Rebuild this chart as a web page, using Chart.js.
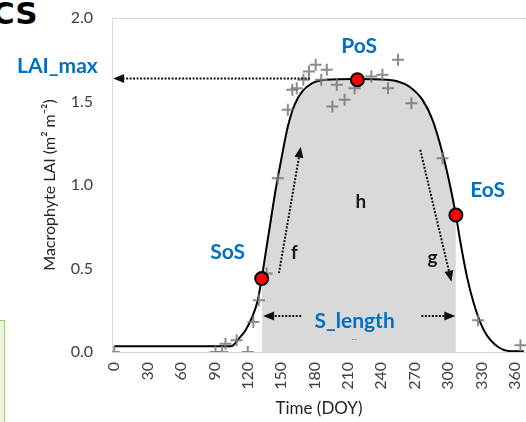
<!DOCTYPE html>
<html>
<head>
<meta charset="utf-8">
<script src="https://cdn.jsdelivr.net/npm/chart.js@4.4.1/dist/chart.umd.min.js"></script>
<style>
  html, body { margin: 0; padding: 0; background: #fff; overflow: hidden; }
  #wrap { position: relative; width: 526px; height: 422px; }
  #head { position: absolute; left: -8px; top: -5px; font: bold 31px 'DejaVu Sans'; color: #000; }
  #side { position: absolute; left: -10px; top: 320px; width: 13px; height: 110px; border: 1.5px solid #92D050; background: #EEF4E3; }
  canvas { position: absolute; left: 0; top: 0; }
</style>
</head>
<body>
<div id="wrap">
  <div id="head">CS</div>
  <div id="side"></div>
  <canvas id="chart" width="526" height="422"></canvas>
</div>
<script>
// fitted phenology curve (day of year, LAI)
const curveDays = [0, 105, 112, 118, 124, 129, 132.5, 136, 140, 145, 150, 156, 162, 169, 178, 190, 218, 245, 255, 265, 277, 286, 295, 302, 307, 311, 317, 325, 333, 345, 357, 368];
const curveLai = [0.035, 0.035, 0.08, 0.13, 0.21, 0.31, 0.44, 0.59, 0.76, 0.97, 1.15, 1.35, 1.48, 1.56, 1.61, 1.63, 1.635, 1.63, 1.62, 1.59, 1.51, 1.39, 1.19, 0.99, 0.82, 0.66, 0.45, 0.25, 0.12, 0.03, 0.005, 0.005];

// observed LAI
const obsDays = [0, 91, 97, 100, 110, 120, 125, 130, 137, 147, 156, 160, 164, 170, 175, 181, 186, 191, 196, 200, 207, 216, 231, 241, 246, 255, 267, 295, 327, 365];
const obsLai = [0.0, 0.0, 0.0, 0.05, 0.07, 0.0, 0.18, 0.31, 0.47, 1.04, 1.45, 1.57, 1.58, 1.63, 1.68, 1.72, 1.63, 1.69, 1.47, 1.60, 1.51, 1.58, 1.65, 1.66, 1.58, 1.75, 1.49, 1.16, 0.19, 0.04];

// start, peak and end of season
const phaseNames = ['SoS', 'PoS', 'EoS'];
const phaseDays = [132.5, 218.5, 307];
const phaseLai = [0.44, 1.63, 0.82];

const doyTicks = [0, 30, 60, 90, 120, 150, 180, 210, 240, 270, 300, 330, 360];
const laiTicks = [0, 0.5, 1.0, 1.5, 2.0];

// text notes placed in data units
const noteText = ['LAI_max', 'PoS', 'SoS', 'EoS', 'S_length', 'h', 'f', 'g', '--'];
const noteDay = [-51, 220, 102, 335.5, 216, 221.5, 162, 286, 216];
const noteLai = [1.71, 1.83, 0.60, 0.97, 0.186, 0.90, 0.594, 0.564, 0.078];
const noteKind = ['blue', 'blue', 'blue', 'blue', 'blue', 'dark', 'dark', 'dark', 'tiny'];

// dotted arrows (from -> tip)
const arrowFromDay = [176, 148, 275, 168, 276];
const arrowFromLai = [1.637, 0.472, 1.211, 0.216, 0.216];
const arrowToDay = [-1, 167.6, 303, 133.8, 306.5];
const arrowToLai = [1.637, 1.229, 0.421, 0.216, 0.216];

const sosDay = phaseDays[0];
const eosDay = phaseDays[2];
const fontFamily = 'Lato, "Open Sans", sans-serif';

function drawArrow(ctx, x0, y0, x1, y1) {
    const ang = Math.atan2(y1 - y0, x1 - x0);
    const head = 11, half = 4.5;
    const bx = x1 - head * Math.cos(ang);
    const by = y1 - head * Math.sin(ang);
    ctx.strokeStyle = '#111';
    ctx.lineWidth = 2;
    ctx.setLineDash([2, 1.5]);
    ctx.beginPath();
    ctx.moveTo(x0, y0);
    ctx.lineTo(bx, by);
    ctx.stroke();
    ctx.setLineDash([]);
    ctx.fillStyle = '#111';
    ctx.beginPath();
    ctx.moveTo(x1, y1);
    ctx.lineTo(bx + half * Math.sin(ang), by - half * Math.cos(ang));
    ctx.lineTo(bx - half * Math.sin(ang), by + half * Math.cos(ang));
    ctx.closePath();
    ctx.fill();
}

const notesPlugin = {
    id: 'notes',
    beforeDatasetsDraw(chart) {
        const {ctx, chartArea} = chart;
        // top edge of the plot frame
        ctx.save();
        ctx.strokeStyle = '#D9D9D9';
        ctx.lineWidth = 1;
        ctx.beginPath();
        ctx.moveTo(chartArea.left, chartArea.top + 0.5);
        ctx.lineTo(chartArea.right, chartArea.top + 0.5);
        ctx.stroke();
        ctx.restore();
    },
    afterDatasetsDraw(chart) {
        const {ctx, scales: {x, y}} = chart;
        ctx.save();
        for (let i = 0; i < arrowFromDay.length; i++) {
            drawArrow(ctx,
                x.getPixelForValue(arrowFromDay[i]), y.getPixelForValue(arrowFromLai[i]),
                x.getPixelForValue(arrowToDay[i]), y.getPixelForValue(arrowToLai[i]));
        }
        ctx.textAlign = 'center';
        ctx.textBaseline = 'middle';
        noteText.forEach((t, i) => {
            if (noteKind[i] === 'blue') {
                ctx.font = `bold 21px ${fontFamily}`;
                ctx.fillStyle = '#0070C0';
            } else if (noteKind[i] === 'dark') {
                ctx.font = `bold 19px ${fontFamily}`;
                ctx.fillStyle = '#1a1a1a';
            } else {
                ctx.font = `8px ${fontFamily}`;
                ctx.fillStyle = '#555';
            }
            ctx.fillText(t, x.getPixelForValue(noteDay[i]), y.getPixelForValue(noteLai[i]));
        });
        ctx.restore();
    }
};

const ctx = document.getElementById('chart');

new Chart(ctx, {
    type: 'scatter',
    data: {
        datasets: [
            {
                label: 'Phenology dates',
                data: phaseDays.map((d, i) => ({x: d, y: phaseLai[i]})),
                pointRadius: 6.5,
                pointHoverRadius: 6.5,
                backgroundColor: '#FF0000',
                borderColor: '#000',
                borderWidth: 2,
                order: 0
            },
            {
                label: 'Observed LAI',
                data: obsDays.map((d, i) => ({x: d, y: obsLai[i]})),
                pointStyle: 'cross',
                pointRadius: 6,
                borderColor: 'rgba(120,120,120,0.85)',
                borderWidth: 2,
                order: 1
            },
            {
                type: 'line',
                label: 'Fitted curve',
                data: curveDays.map((d, i) => ({x: d, y: curveLai[i]})),
                borderColor: '#000',
                borderWidth: 2,
                pointRadius: 0,
                cubicInterpolationMode: 'monotone',
                fill: 'origin',
                backgroundColor: 'rgba(0,0,0,0)',
                segment: {
                    // shade only the growing season, SoS to EoS
                    backgroundColor: c => (c.p0.parsed.x >= sosDay - 0.01 && c.p1.parsed.x <= eosDay + 0.01) ? '#D9D9D9' : 'rgba(0,0,0,0)'
                },
                order: 2
            }
        ]
    },
    options: {
        responsive: false,
        animation: false,
        layout: { autoPadding: false, padding: { top: 18, right: 0, left: 0, bottom: 0 } },
        plugins: {
            legend: { display: false },
            tooltip: { enabled: false }
        },
        scales: {
            x: {
                type: 'linear',
                min: -2,
                max: 370,
                afterBuildTicks: s => { s.ticks = doyTicks.map(v => ({value: v})); },
                afterFit: s => {
                    s.height = 70;
                    s.paddingLeft = 0;
                    s.paddingRight = 0;
                },
                border: { color: '#D9D9D9', width: 1 },
                grid: { display: false, drawTicks: false },
                ticks: {
                    autoSkip: false,
                    minRotation: 90,
                    maxRotation: 90,
                    padding: 10,
                    color: '#404040',
                    font: { family: fontFamily, size: 16 }
                },
                title: {
                    display: true,
                    text: 'Time (DOY)',
                    color: '#222',
                    font: { family: fontFamily, size: 17 },
                    padding: { top: 0, bottom: 3 }
                }
            },
            y: {
                min: 0,
                max: 2,
                afterBuildTicks: s => { s.ticks = laiTicks.map(v => ({value: v})); },
                afterFit: s => {
                    s.width = 112;
                    s.paddingTop = 0;
                    s.paddingBottom = 0;
                },
                border: { color: '#D9D9D9', width: 1 },
                grid: { display: false, drawTicks: false },
                ticks: {
                    padding: 19,
                    color: '#404040',
                    font: { family: fontFamily, size: 16 },
                    callback: v => v.toFixed(1)
                },
                title: {
                    display: true,
                    text: 'Macrophyte LAI (m² m⁻²)',
                    color: '#222',
                    font: { family: fontFamily, size: 16 },
                    padding: { top: 40, bottom: 0 }
                }
            }
        }
    },
    plugins: [notesPlugin]
});
</script>
</body>
</html>
